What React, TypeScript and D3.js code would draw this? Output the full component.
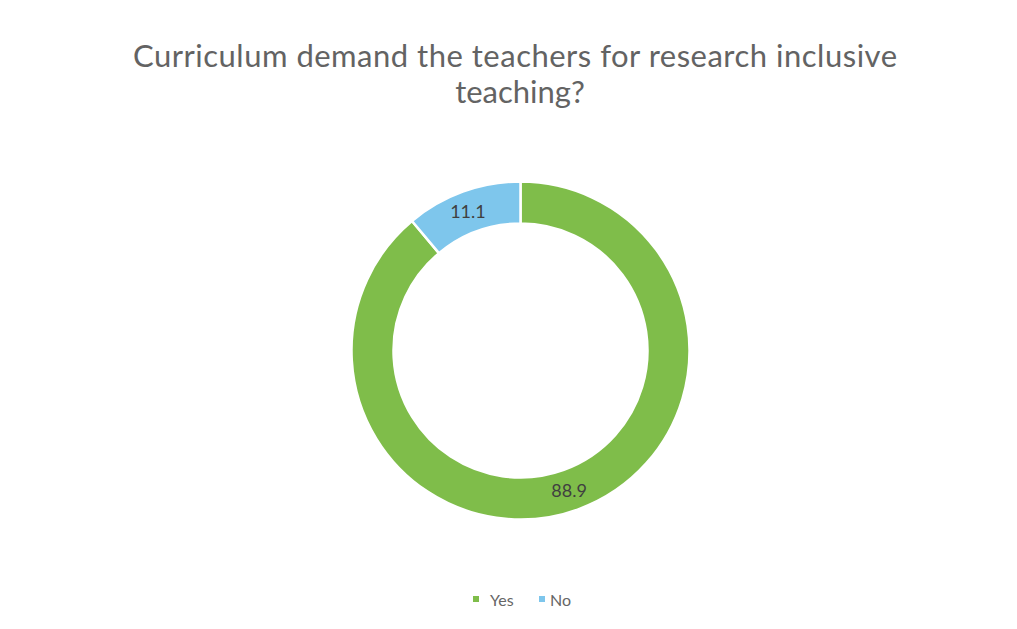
import React from "react";
import * as d3 from "d3";

const categories = ["Yes", "No"];
const values = [88.9, 11.1];
const colors = ["#7fbd4a", "#7ec6ec"];
const titleLines = ["Curriculum demand the teachers for research inclusive", "teaching?"];

const W = 1017;
const H = 629;

export default function App() {
  const cx = 520.5;
  const cy = 350.5;
  const outerR = 169;
  const innerR = 127;
  const pie = d3.pie<number>().sort(null).value((d) => d);
  const arcs = pie(values);
  const arc = d3.arc<d3.PieArcDatum<number>>().innerRadius(innerR).outerRadius(outerR);
  const labelArc = d3.arc<d3.PieArcDatum<number>>().innerRadius((innerR + outerR) / 2).outerRadius((innerR + outerR) / 2);

  const legendX = [473, 539];
  return (
    <svg width={W} height={H} style={{ position: "absolute", left: 0, top: 0, background: "#fff" }}>
      <rect width={W} height={H} fill="#ffffff" />
      <g fontFamily="Lato, 'Open Sans', sans-serif" fill="#636363">
        <text x={515} y={67} textAnchor="middle" fontSize={31} textLength={764} lengthAdjust="spacing">
          {titleLines[0]}
        </text>
        <text x={520} y={103} textAnchor="middle" fontSize={31}>
          {titleLines[1]}
        </text>
      </g>
      <g transform={`translate(${cx},${cy})`}>
        {arcs.map((a, i) => (
          <path key={categories[i]} d={arc(a) || ""} fill={colors[i]} stroke="#fff" strokeWidth={2.5} />
        ))}
        {arcs.map((a, i) => {
          const [x, y] = labelArc.centroid(a);
          return (
            <text key={"l" + i} x={x - 2} y={y} textAnchor="middle" dominantBaseline="central" fontFamily="Lato, 'Open Sans', sans-serif" fontSize={18} fill="#404040">
              {values[i].toFixed(1)}
            </text>
          );
        })}
      </g>
      <g fontFamily="Lato, 'Open Sans', sans-serif" fontSize={16} fill="#666666">
        {categories.map((c, i) => (
          <g key={c} transform={`translate(${legendX[i]},599)`}>
            <rect x={0} y={-3} width={6} height={6} fill={colors[i]} />
            <text x={i === 0 ? 17 : 11} y={0} dominantBaseline="central">{c}</text>
          </g>
        ))}
      </g>
    </svg>
  );
}
